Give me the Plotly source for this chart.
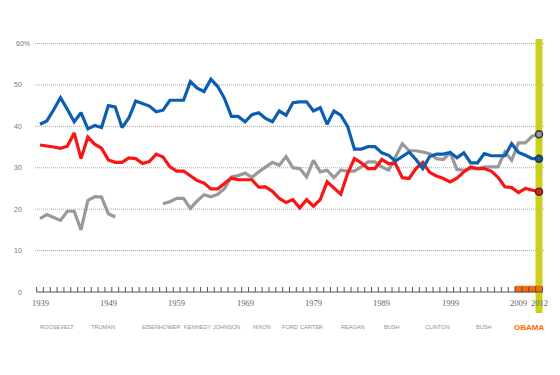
import plotly.graph_objects as go

# ---------------- data ----------------
years = list(range(1939, 2013))

democrats = [
    40.5, 41.3, 44.0, 46.9, 44.1, 41.1, 43.3, 39.4, 40.2, 39.7,   # 1939-1948
    45.0, 44.7, 39.7, 42.0, 46.1, 45.5, 44.9, 43.5, 43.9, 46.3,   # 1949-1958
    46.3, 46.3, 50.8, 49.2, 48.4, 51.4, 49.6, 46.7, 42.4, 42.4,   # 1959-1968
    41.1, 42.8, 43.3, 41.9, 41.1, 43.7, 42.7, 45.7, 45.9, 45.9,   # 1969-1978
    43.7, 44.5, 40.5, 43.7, 42.7, 40.0, 34.5, 34.5, 35.1, 35.1,   # 1979-1988
    33.6, 33.0, 31.6, 32.6, 33.8, 32.0, 29.8, 32.7, 33.3, 33.3,   # 1989-1998
    33.7, 32.4, 33.6, 31.2, 31.2, 33.4, 32.9, 32.9, 32.9, 35.8,   # 1999-2008
    33.7, 33.0, 32.2, 32.2,                                       # 2009-2012
]

republicans = [
    35.5, 35.3, 35.0, 34.7, 35.2, 38.4, 32.2, 37.4, 35.7, 34.7,   # 1939-1948
    31.9, 31.3, 31.3, 32.4, 32.2, 31.0, 31.5, 33.3, 32.6, 30.2,   # 1949-1958
    29.2, 29.2, 28.0, 26.9, 26.3, 24.9, 24.9, 26.1, 27.5, 27.1,   # 1959-1968
    27.1, 27.1, 25.3, 25.4, 24.3, 22.6, 21.6, 22.3, 20.3, 22.3,   # 1969-1978
    20.7, 22.3, 26.6, 25.2, 23.6, 28.6, 32.2, 31.2, 29.8, 29.8,   # 1979-1988
    32.0, 31.0, 31.0, 27.6, 27.4, 29.8, 31.3, 28.9, 28.0, 27.4,   # 1989-1998
    26.6, 27.5, 29.0, 30.2, 29.8, 29.8, 29.2, 27.7, 25.4, 25.2,   # 1999-2008
    24.0, 25.0, 24.5, 24.2,                                       # 2009-2012
]

independents = [
    17.7, 18.7, 18.0, 17.3, 19.5, 19.5, 15.0, 22.1, 23.0, 22.9,   # 1939-1948
    18.9, 18.1, None, None, None, None, None, None, 21.3, 21.8,   # 1949-1958
    22.6, 22.6, 20.2, 22.0, 23.5, 23.0, 23.6, 25.0, 27.8, 28.1,   # 1959-1968
    28.7, 27.7, 29.0, 30.2, 31.3, 30.6, 32.7, 30.0, 29.8, 27.8,   # 1969-1978
    31.8, 29.0, 29.4, 27.6, 29.4, 29.2, 29.2, 30.2, 31.4, 31.4,   # 1979-1988
    30.2, 29.4, 32.6, 35.8, 34.1, 34.1, 33.8, 33.4, 32.2, 32.0,   # 1989-1998
    33.6, 29.6, 29.4, 29.8, 29.8, 30.2, 30.2, 30.2, 33.8, 31.8,   # 1999-2008
    36.0, 36.0, 37.6, 38.1,                                       # 2009-2012
]

y_ticks = [0, 10, 20, 30, 40, 50, 60]
year_labels = [1939, 1949, 1959, 1969, 1979, 1989, 1999, 2009, 2012]

presidents = ["ROOSEVELT", "TRUMAN", "EISENHOWER", "KENNEDY", "JOHNSON", "NIXON",
              "FORD", "CARTER", "REAGAN", "BUSH", "CLINTON", "BUSH", "OBAMA"]
president_label_year = [1941.5, 1948.2, 1956.7, 1962.0, 1966.3, 1971.5,
                        1975.5, 1978.75, 1984.8, 1990.45, 1997.1, 2003.95, 2010.5]
current_term = [2009, 2010, 2011, 2012]

# ---------------- layout calibration ----------------
# the page body has an 8px margin, so the figure starts at (8, 8) in the window
OFF = 8
W, H = 560 - OFF, 375 - OFF
PX_PER_YEAR = 499 / 73.0
X0 = 1939 - (40 - OFF) / PX_PER_YEAR
X1 = X0 + W / PX_PER_YEAR
PX_PER_UNIT = 248.5 / 60.0
BASE_PX = 292 - OFF
Y1 = BASE_PX / PX_PER_UNIT
Y0 = -(H - BASE_PX) / PX_PER_UNIT


def px_x(p):
    """window pixel -> paper fraction"""
    return (p - OFF) / W


BLUE = "#0a5fb0"
RED = "#fb1414"
GRAY = "#999999"
YELLOW = "#cbd01c"
ORANGE = "#ff6a00"

fig = go.Figure()

for vals, color in [(independents, GRAY), (republicans, RED), (democrats, BLUE)]:
    fig.add_trace(go.Scatter(
        x=years, y=vals, mode="lines",
        line=dict(color=color, width=3.2, shape="linear"),
        connectgaps=False, hoverinfo="skip"))

for vals, color in [(independents, GRAY), (republicans, RED), (democrats, BLUE)]:
    fig.add_trace(go.Scatter(
        x=[years[-1]], y=[vals[-1]], mode="markers",
        marker=dict(size=7, color=color, line=dict(color="#333333", width=1.5)),
        hoverinfo="skip"))

shapes = []
# gridlines
for v in y_ticks[1:]:
    shapes.append(dict(type="line", xref="paper", yref="y",
                       x0=px_x(35), x1=px_x(545), y0=v, y1=v,
                       line=dict(color="#aaaaaa", width=1, dash="1px,1px"),
                       layer="below"))
# yellow highlight bar for the current year
shapes.append(dict(type="rect", xref="x", yref="y",
                   x0=years[-1] - 0.51, x1=years[-1] + 0.51,
                   y0=61.1, y1=-5.1, fillcolor=YELLOW, line=dict(width=0),
                   layer="below"))
# orange boxes for the current term
for yr in current_term:
    shapes.append(dict(type="rect", xref="x", yref="y",
                       x0=yr - 0.5, x1=yr + 0.5, y0=0, y1=1.4,
                       fillcolor=ORANGE, line=dict(color="#c94a00", width=0.6),
                       layer="above"))
# baseline + year ticks
shapes.append(dict(type="line", xref="x", yref="y",
                   x0=years[0] - 0.5, x1=years[-1] + 0.5, y0=0, y1=0,
                   line=dict(color="#555555", width=1), layer="above"))
for yr in years + [years[-1] + 1]:
    shapes.append(dict(type="line", xref="x", yref="y",
                       x0=yr - 0.5, x1=yr - 0.5, y0=0, y1=1.2,
                       line=dict(color="#555555", width=1), layer="above"))

annotations = []
for v in y_ticks:
    if v == 60:
        annotations.append(dict(xref="paper", yref="y", x=px_x(14), y=v,
                                text="60%", showarrow=False, xanchor="left",
                                yanchor="middle",
                                font=dict(family="Liberation Sans, Arial", size=7, color="#777777")))
    else:
        annotations.append(dict(xref="paper", yref="y", x=px_x(23.5), y=v,
                                text=str(v), showarrow=False, xanchor="right",
                                yanchor="middle",
                                font=dict(family="Liberation Sans, Arial", size=7, color="#777777")))

for yr in year_labels:
    annotations.append(dict(xref="x", yref="y", x=yr, y=-(303 - 292) / PX_PER_UNIT,
                            text=str(yr), showarrow=False, xanchor="center",
                            yanchor="middle",
                            font=dict(family="Liberation Serif, Georgia, serif", size=8.5,
                                      color="#666666")))

for name, yr in zip(presidents, president_label_year):
    is_current = name == "OBAMA"
    annotations.append(dict(xref="x", yref="y", x=yr, y=-(327 - 292) / PX_PER_UNIT,
                            text=f"<b>{name}</b>" if is_current else name,
                            showarrow=False, xanchor="center", yanchor="middle",
                            font=dict(family="Liberation Sans, Arial",
                                      size=8 if is_current else 5.6,
                                      color=ORANGE if is_current else "#8f8f8f")))

fig.update_layout(
    width=W, height=H,
    margin=dict(l=0, r=0, t=0, b=0),
    paper_bgcolor="white", plot_bgcolor="white",
    showlegend=False,
    xaxis=dict(range=[X0, X1], visible=False, fixedrange=True),
    yaxis=dict(range=[Y0, Y1], visible=False, fixedrange=True),
    shapes=shapes, annotations=annotations,
)

fig.write_html("out.html", config={"displayModeBar": False})
